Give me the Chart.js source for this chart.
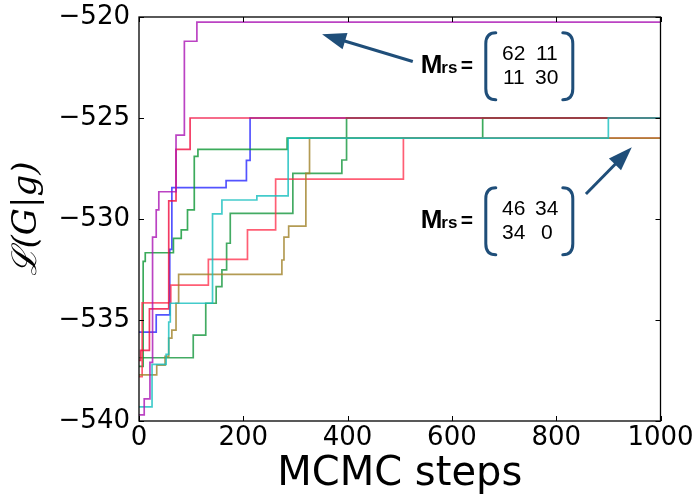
<!DOCTYPE html>
<html>
<head>
<meta charset="utf-8">
<script src="https://cdn.jsdelivr.net/npm/chart.js@4.4.0/dist/chart.umd.min.js"></script>
<style>
  html, body { margin: 0; padding: 0; background: #fff; }
  canvas { display: block; }
</style>
</head>
<body>
<canvas id="c" width="699" height="503"></canvas>
<script>
// ---- axis ticks ----
const xTicks = [0, 200, 400, 600, 800, 1000];
const yTicks = [-540, -535, -530, -525, -520];

// ---- MCMC trace series (x = step where value changes, y = new value) ----
const magentaX = [0, 10, 21, 26, 33, 38, 71, 87, 111, 1000];
const magentaY = [-539.7, -538.9, -537.1, -530.9, -529.55, -528.65, -525.85, -521.2, -520.25, -520.25];

const redAX = [0, 3, 20, 57, 71, 98, 1000];
const redAY = [-537.0, -536.5, -534.45, -529.1, -526.55, -525.0, -525.0];

const redBX = [0, 6, 61, 133, 208, 262, 507, 1000];
const redBY = [-537.8, -534.15, -533.27, -532.0, -530.54, -528.03, -526.0, -526.0];

const blueX = [0, 33, 59, 63, 167, 206, 213, 1000];
const blueY = [-535.6, -534.75, -531.5, -528.45, -528.1, -527.1, -525.0, -525.0];

const greenAX = [0, 8, 12, 66, 81, 93, 106, 113, 284, 659, 1000];
const greenAY = [-537.3, -532.1, -531.67, -530.96, -530.54, -529.55, -526.9, -526.55, -526.0, -525.0, -525.0];

const greenBX = [0, 104, 128, 148, 159, 168, 175, 295, 389, 398, 1000];
const greenBY = [-536.87, -535.75, -534.17, -533.35, -532.52, -531.2, -529.72, -527.74, -527.08, -525.0, -525.0];

const cyanX = [0, 25, 52, 57, 60, 141, 159, 226, 286, 900, 1000];
const cyanY = [-539.3, -537.2, -536.7, -535.1, -534.17, -529.75, -529.06, -528.86, -526.0, -525.0, -525.0];

const oliveX = [0, 34, 50, 57, 63, 71, 76, 274, 278, 287, 320, 327, 1000];
const oliveY = [-537.72, -537.23, -536.8, -535.9, -535.5, -534.17, -532.74, -532.03, -530.9, -530.35, -527.74, -526.0, -526.0];

function pts(xs, ys) { return xs.map((x, i) => ({ x: x, y: ys[i] })); }

function ds(xs, ys, color) {
  return {
    data: pts(xs, ys),
    borderColor: color,
    borderWidth: 1.7,
    stepped: 'before',
    pointRadius: 0,
    fill: false
  };
}

// first dataset is drawn on top
const datasets = [
  ds(magentaX, magentaY, 'rgba(170,20,180,0.8)'),
  ds(cyanX, cyanY, 'rgba(20,190,190,0.8)'),
  ds(redAX, redAY, 'rgba(240,10,60,0.8)'),
  ds(oliveX, oliveY, 'rgba(160,130,40,0.8)'),
  ds(redBX, redBY, 'rgba(255,40,70,0.75)'),
  ds(greenAX, greenAY, 'rgba(10,150,50,0.8)'),
  ds(greenBX, greenBY, 'rgba(20,150,60,0.8)'),
  ds(blueX, blueY, 'rgba(40,40,255,0.8)')
];

function fmt(v) { return (v < 0 ? '\u2212' : '') + Math.abs(v); }

const ANNOT = '#1f4e79';

function arrow(ctx, x1, y1, x2, y2) {
  const a = Math.atan2(y2 - y1, x2 - x1);
  const L = 24, W = 8.5;
  const dx = Math.cos(a), dy = Math.sin(a);
  ctx.save();
  ctx.strokeStyle = ANNOT; ctx.fillStyle = ANNOT; ctx.lineWidth = 3;
  ctx.beginPath();
  ctx.moveTo(x1, y1);
  ctx.lineTo(x2 - dx * L * 0.8, y2 - dy * L * 0.8);
  ctx.stroke();
  ctx.beginPath();
  ctx.moveTo(x2, y2);
  ctx.lineTo(x2 - dx * L - dy * W, y2 - dy * L + dx * W);
  ctx.lineTo(x2 - dx * L + dy * W, y2 - dy * L - dx * W);
  ctx.closePath();
  ctx.fill();
  ctx.restore();
}

function matrix(ctx, px, by, rows) {
  // px: x of left bracket, by: baseline of "M"
  ctx.save();
  ctx.fillStyle = '#000';
  ctx.textAlign = 'left';
  ctx.textBaseline = 'alphabetic';
  ctx.font = 'bold 26px "Liberation Sans", Arial, sans-serif';
  ctx.fillText('M', px - 65, by);
  ctx.font = 'bold 17px "Liberation Sans", Arial, sans-serif';
  ctx.fillText('rs', px - 44.5, by);
  ctx.font = 'bold 21px "Liberation Sans", Arial, sans-serif';
  ctx.fillText('=', px - 25, by - 1);
  // brackets
  const top = by - 40.5, bot = by + 26.5, r = 11;
  ctx.strokeStyle = ANNOT; ctx.lineWidth = 3; ctx.lineCap = 'round';
  ctx.beginPath();
  ctx.moveTo(px + 10, top);
  ctx.quadraticCurveTo(px, top, px, top + r);
  ctx.lineTo(px, bot - r);
  ctx.quadraticCurveTo(px, bot, px + 10, bot);
  ctx.stroke();
  const qx = px + 87;
  ctx.beginPath();
  ctx.moveTo(qx - 10, top);
  ctx.quadraticCurveTo(qx, top, qx, top + r);
  ctx.lineTo(qx, bot - r);
  ctx.quadraticCurveTo(qx, bot, qx - 10, bot);
  ctx.stroke();
  // numbers
  ctx.fillStyle = '#000';
  ctx.font = '21px "Liberation Sans", Arial, sans-serif';
  ctx.textAlign = 'center';
  ctx.textBaseline = 'middle';
  const cols = [px + 28, px + 61];
  const rys = [by - 19.2, by + 5];
  rows.forEach((row, i) => row.forEach((t, j) => ctx.fillText(t, cols[j], rys[i])));
  ctx.restore();
}

const framePlugin = {
  id: 'frame',
  afterDatasetsDraw(chart) {
    const { ctx, chartArea: a, scales: { x, y } } = chart;
    ctx.save();
    ctx.strokeStyle = '#000';
    ctx.lineWidth = 1.3;
    ctx.strokeRect(a.left, a.top, a.right - a.left, a.bottom - a.top);
    ctx.lineWidth = 1;
    const t = 5;
    ctx.beginPath();
    xTicks.forEach(v => {
      const p = Math.round(x.getPixelForValue(v)) + 0.5;
      ctx.moveTo(p, a.bottom); ctx.lineTo(p, a.bottom - t);
      ctx.moveTo(p, a.top); ctx.lineTo(p, a.top + t);
    });
    yTicks.forEach(v => {
      const p = Math.round(y.getPixelForValue(v)) + 0.5;
      ctx.moveTo(a.left, p); ctx.lineTo(a.left + t, p);
      ctx.moveTo(a.right, p); ctx.lineTo(a.right - t, p);
    });
    ctx.stroke();
    ctx.restore();

    // annotations (anchored to data coordinates)
    const X = v => x.getPixelForValue(v), Y = v => y.getPixelForValue(v);
    arrow(ctx, X(525), Y(-522.2), X(351), Y(-520.85));
    arrow(ctx, X(857), Y(-528.76), X(945), Y(-526.45));
    matrix(ctx, X(665), Y(-522.79), [['62', '11'], ['11', '30']]);
    matrix(ctx, X(665), Y(-530.46), [['46', '34'], ['34', '0']]);
  }
};

new Chart(document.getElementById('c'), {
  type: 'line',
  data: { datasets: datasets },
  plugins: [framePlugin],
  options: {
    responsive: false,
    animation: false,
    devicePixelRatio: 1,
    layout: { padding: { left: 0, top: 17, right: 38.5, bottom: 0 } },
    plugins: { legend: { display: false }, tooltip: { enabled: false } },
    elements: { point: { radius: 0 } },
    scales: {
      x: {
        type: 'linear',
        min: 0, max: 1000,
        afterBuildTicks(s) { s.ticks = xTicks.map(v => ({ value: v })); },
        afterFit(s) { s.height = 82; s.paddingLeft = 0; s.paddingRight = 0; },
        grid: { display: false, drawTicks: false },
        border: { display: false },
        ticks: {
          padding: 2,
          color: '#000',
          font: { family: 'DejaVu Sans', size: 26 },
          maxRotation: 0,
          callback: v => fmt(v)
        },
        title: {
          display: true,
          text: 'MCMC steps',
          color: '#000',
          font: { family: 'DejaVu Sans', size: 40 },
          padding: { top: 0, bottom: 4 }
        }
      },
      y: {
        type: 'linear',
        min: -540, max: -520,
        afterBuildTicks(s) { s.ticks = yTicks.map(v => ({ value: v })); },
        afterFit(s) { s.width = 139; s.paddingTop = 0; s.paddingBottom = 0; },
        grid: { display: false, drawTicks: false },
        border: { display: false },
        ticks: {
          padding: 9,
          color: '#000',
          font: { family: 'DejaVu Sans', size: 26 },
          callback: v => fmt(v)
        },
        title: {
          display: true,
          text: '\u2112(G|g)',
          color: '#000',
          font: { family: 'DejaVu Serif', size: 34, style: 'italic' },
          padding: { top: 7, bottom: 0 }
        }
      }
    }
  }
});
</script>
</body>
</html>
